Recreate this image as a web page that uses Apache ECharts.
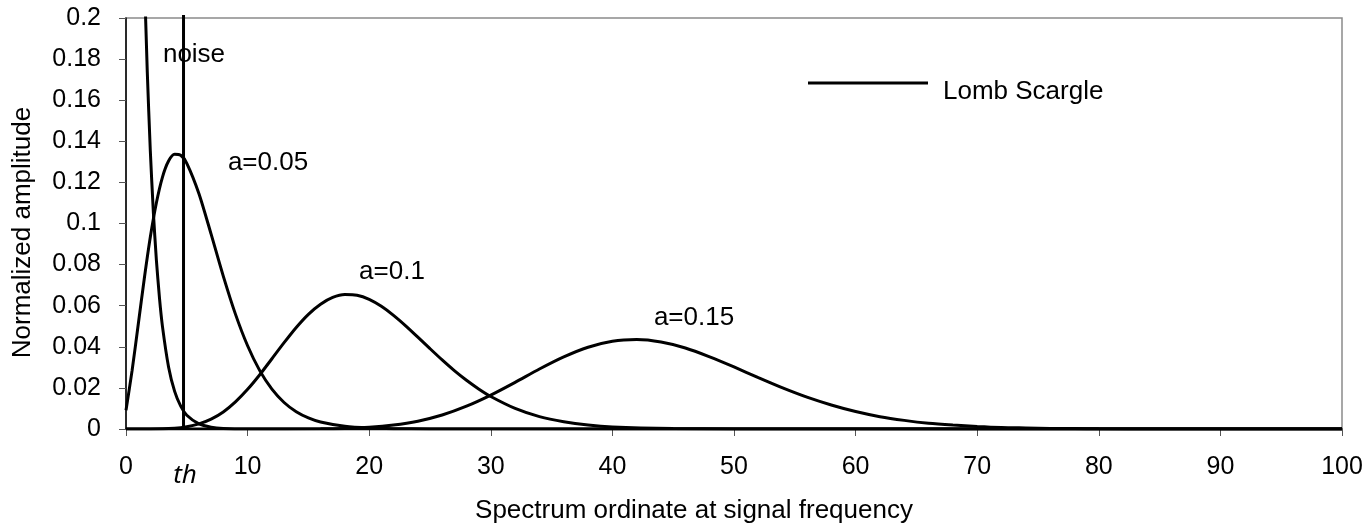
<!DOCTYPE html>
<html>
<head>
<meta charset="utf-8">
<script src="https://cdn.jsdelivr.net/npm/echarts@6/dist/echarts.min.js"></script>
<style>
html,body{margin:0;padding:0;background:#fff;}
#chart{width:1367px;height:527px;}
</style>
</head>
<body>
<div id="chart"></div>
<script>
// ---- data ----
const xTicks = [0, 10, 20, 30, 40, 50, 60, 70, 80, 90, 100];
const yTicks = [0, 0.02, 0.04, 0.06, 0.08, 0.1, 0.12, 0.14, 0.16, 0.18, 0.2];

const noiseX = [0, 0.5, 1, 1.25, 1.5, 1.75, 2, 2.25, 2.5, 2.75, 3, 3.5, 4, 4.5, 5, 6, 7, 8, 10, 100];
const noiseY = [1, 0.6065, 0.3679, 0.2865, 0.2231, 0.1738, 0.1353, 0.1054, 0.0821, 0.0639, 0.0498, 0.0302, 0.0183, 0.0111, 0.0067, 0.0025, 0.0009, 0.0003, 0.00005, 0];

const a05X = [0, 0.5, 1, 1.5, 2, 2.5, 3, 3.5, 4, 4.5, 5, 6, 7, 8, 9, 10, 11, 12, 13, 14, 15, 16, 18, 20, 22, 25, 30, 100];
const a05Y = [0.0091, 0.0284, 0.0506, 0.0730, 0.0934, 0.1101, 0.1226, 0.1304, 0.1337, 0.1332, 0.1293, 0.1145, 0.0948, 0.0744, 0.0559, 0.0405, 0.0284, 0.0194, 0.0129, 0.0084, 0.0054, 0.0034, 0.0013, 0.00045, 0.00015, 0.00003, 0, 0];

const a10X = [0, 2, 4, 5, 6, 7, 8, 9, 10, 11, 12, 13, 14, 15, 16, 17, 18, 19, 20, 21, 22, 23, 24, 25, 26, 27, 28, 29, 30, 32, 34, 36, 38, 40, 45, 50, 60, 100];
const a10Y = [0, 0.00002, 0.0004, 0.0011, 0.0025, 0.0048, 0.0083, 0.0132, 0.0193, 0.0264, 0.0342, 0.0420, 0.0494, 0.0558, 0.0607, 0.0640, 0.0654, 0.0651, 0.0631, 0.0597, 0.0553, 0.0502, 0.0447, 0.0391, 0.0336, 0.0284, 0.0237, 0.0195, 0.0158, 0.0100, 0.0060, 0.0035, 0.0019, 0.0010, 0.0002, 0.00003, 0, 0];

const a15X = [0, 10, 16, 18, 20, 22, 24, 26, 28, 30, 32, 34, 36, 38, 40, 42, 44, 46, 48, 50, 52, 54, 56, 58, 60, 62, 64, 66, 68, 70, 72, 74, 76, 78, 80, 85, 90, 100];
const a15Y = [0, 0, 0.0001, 0.0003, 0.0008, 0.0019, 0.0038, 0.0068, 0.0111, 0.0165, 0.0227, 0.0292, 0.0351, 0.0398, 0.0427, 0.0435, 0.0423, 0.0394, 0.0351, 0.0302, 0.0250, 0.0200, 0.0155, 0.0117, 0.0085, 0.0060, 0.0042, 0.0028, 0.0019, 0.0012, 0.0007, 0.0005, 0.0003, 0.0002, 0.0001, 0, 0, 0];

const thX = [4.73, 4.73];
const thY = [0, 0.2015];

const curveLabels = ['noise', 'a=0.05', 'a=0.1', 'a=0.15'];
const thLabel = 'th';
const legendName = 'Lomb Scargle';
const xTitle = 'Spectrum ordinate at signal frequency';
const yTitle = 'Normalized amplitude';

// ---- build ----
const zip = (xs, ys) => xs.map((x, i) => [x, ys[i]]);
const FONT = '"Liberation Sans", Arial, sans-serif';
const TICK_FS = 25;
const LABEL_FS = 26;
const TITLE_FS = 26;

const lineSeries = (name, xs, ys) => ({
  name: name,
  type: 'line',
  data: zip(xs, ys),
  showSymbol: false,
  symbol: 'none',
  smooth: 0.25,
  clip: true,
  lineStyle: { color: '#000', width: 3 },
  itemStyle: { color: '#000' },
  z: 3,
  silent: true,
  animation: false
});

const chart = echarts.init(document.getElementById('chart'), null, { renderer: 'canvas' });

const option = {
  animation: false,
  backgroundColor: '#fff',
  grid: {
    left: 126, right: 25, top: 18, bottom: 98,
    outerBoundsMode: 'none',
    containLabel: false,
    show: true, borderColor: '#8a8a8a', borderWidth: 1.5, backgroundColor: 'transparent'
  },
  legend: {
    data: [{ name: legendName, icon: 'path://M0,0L120,0L120,3L0,3Z M129.9,19.9L130,19.9L130,20L129.9,20Z' }],
    left: 808, top: 78.5, padding: 0,
    itemWidth: 130, itemHeight: 20,
    selectedMode: false,
    textStyle: { fontFamily: FONT, fontSize: LABEL_FS, color: '#000' },
    itemStyle: { color: '#000' }
  },
  xAxis: {
    type: 'value', min: 0, max: 100, interval: 10,
    name: xTitle, nameLocation: 'middle', nameGap: 69,
    nameTextStyle: { fontFamily: FONT, fontSize: TITLE_FS, color: '#000', padding: [0, 80, 0, 0] },
    axisLine: { show: true, lineStyle: { color: '#000', width: 1.5 } },
    axisTick: { show: true, length: 7, lineStyle: { color: '#555', width: 1 } },
    axisLabel: {
      fontFamily: FONT, fontSize: TICK_FS, color: '#000', margin: 26,
      formatter: v => { const i = xTicks.indexOf(v); return i >= 0 ? String(xTicks[i]) : ''; }
    },
    splitLine: { show: false }
  },
  yAxis: {
    type: 'value', min: 0, max: 0.2, interval: 0.02,
    name: yTitle, nameLocation: 'middle', nameGap: 90,
    nameTextStyle: { fontFamily: FONT, fontSize: TITLE_FS, color: '#000', padding: [0, 18, 0, 0] },
    axisLine: { show: true, lineStyle: { color: '#000', width: 1.5 } },
    axisTick: { show: true, length: 7, lineStyle: { color: '#555', width: 1 } },
    axisLabel: {
      fontFamily: FONT, fontSize: TICK_FS, color: '#000', margin: 25,
      formatter: v => {
        let best = yTicks[0];
        yTicks.forEach(t => { if (Math.abs(t - v) < Math.abs(best - v)) best = t; });
        return String(best);
      }
    },
    splitLine: { show: false }
  },
  series: [
    Object.assign(lineSeries('noise', noiseX, noiseY), { smooth: 0.2 }),
    lineSeries(legendName, a05X, a05Y),
    lineSeries(legendName, a10X, a10Y),
    lineSeries(legendName, a15X, a15Y),
    Object.assign(lineSeries('th', thX, thY), { smooth: false, clip: false, lineStyle: { color: '#000', width: 3 } })
  ],
  graphic: [
    { type: 'text', x: 194, y: 55, style: { text: curveLabels[0], font: LABEL_FS + 'px ' + FONT, fill: '#000', align: 'center', verticalAlign: 'middle' }, z: 10 },
    { type: 'text', x: 268, y: 163, style: { text: curveLabels[1], font: LABEL_FS + 'px ' + FONT, fill: '#000', align: 'center', verticalAlign: 'middle' }, z: 10 },
    { type: 'text', x: 392, y: 272, style: { text: curveLabels[2], font: LABEL_FS + 'px ' + FONT, fill: '#000', align: 'center', verticalAlign: 'middle' }, z: 10 },
    { type: 'text', x: 694, y: 318, style: { text: curveLabels[3], font: LABEL_FS + 'px ' + FONT, fill: '#000', align: 'center', verticalAlign: 'middle' }, z: 10 },
    { type: 'text', x: 185, y: 476, style: { text: thLabel, font: 'italic ' + LABEL_FS + 'px "Noto Sans", "DejaVu Sans", sans-serif', fill: '#000', align: 'center', verticalAlign: 'middle' }, z: 10 }
  ]
};

chart.setOption(option);
</script>
</body>
</html>
